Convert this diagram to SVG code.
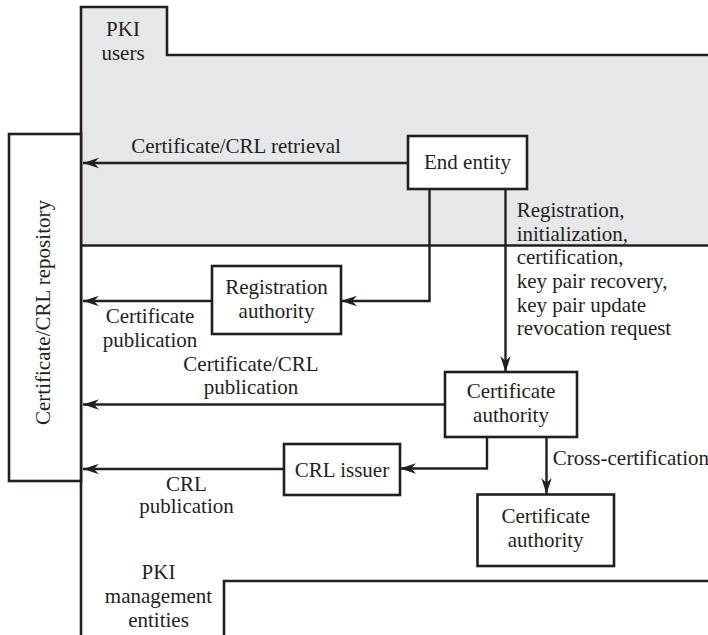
<svg xmlns="http://www.w3.org/2000/svg" width="708" height="635" viewBox="0 0 708 635">
<style>
text{font-family:'Liberation Serif','DejaVu Serif',serif;font-size:21px;fill:#231f20}
.c{text-anchor:middle}
.box{fill:#fff;stroke:#231f20;stroke-width:2.6}
.ln{fill:none;stroke:#231f20;stroke-width:2.6}
.ar{fill:none;stroke:#231f20;stroke-width:2.4;marker-end:url(#ah)}
</style>
<defs>
<marker id="ah" markerUnits="userSpaceOnUse" viewBox="-16 -6 17 12" markerWidth="17" markerHeight="12" refX="0" refY="0" orient="auto">
<path d="M0,0 L-16,-5.2 L-11,0 L-16,5.2 Z" fill="#231f20"/>
</marker>
</defs>
<g id="regions">
<path d="M81,7 H167 V55 H710 V245 H81 Z" fill="#e6e7e8"/>
<path class="ln" d="M81,637 V7 H167 V55 H710"/>
<path class="ln" d="M81,245.5 H710"/>
<path class="ln" d="M224,637 V581 H710"/>
<text class="c" x="123" y="35.7">PKI</text>
<text class="c" x="123" y="60">users</text>
<text class="c" x="158.5" y="579">PKI</text>
<text class="c" x="158.5" y="602.7">management</text>
<text class="c" x="158.5" y="626.7">entities</text>
</g>
<g id="repository">
<rect class="box" x="9" y="134" width="72" height="347"/>
<text class="c" transform="translate(50,312.5) rotate(-90)">Certificate/CRL repository</text>
</g>
<g id="connectors">
<path class="ar" d="M408,163 H83"/>
<path class="ar" d="M429.5,189 V301 H341"/>
<path class="ar" d="M505.5,189 V372"/>
<path class="ar" d="M212,301 H83"/>
<path class="ar" d="M445,404.5 H83"/>
<path class="ar" d="M487,437 V468.5 H400"/>
<path class="ar" d="M546.5,437 V494"/>
<path class="ar" d="M284,469 H83"/>
<text class="c" x="236" y="153.3">Certificate/CRL retrieval</text>
<text x="516.7" y="217">Registration,</text>
<text x="516.7" y="240.7">initialization,</text>
<text x="516.7" y="264.4">certification,</text>
<text x="516.7" y="288">key pair recovery,</text>
<text x="516.7" y="311.7">key pair update</text>
<text x="516.7" y="335.4">revocation request</text>
<text class="c" x="150" y="322.7">Certificate</text>
<text class="c" x="150" y="346.7">publication</text>
<text class="c" x="251" y="370.7">Certificate/CRL</text>
<text class="c" x="251" y="394">publication</text>
<text x="552.7" y="465">Cross-certification</text>
<text class="c" x="186.5" y="490.7">CRL</text>
<text class="c" x="186.5" y="513.3">publication</text>
</g>
<g id="end-entity">
<rect class="box" x="408" y="136" width="119" height="53"/>
<text class="c" x="467.5" y="169.3">End entity</text>
</g>
<g id="registration-authority">
<rect class="box" x="212" y="266" width="129" height="68"/>
<text class="c" x="276.5" y="294.3">Registration</text>
<text class="c" x="276.5" y="318.3">authority</text>
</g>
<g id="certificate-authority">
<rect class="box" x="445" y="372" width="132" height="65"/>
<text class="c" x="511" y="398.3">Certificate</text>
<text class="c" x="511" y="422.3">authority</text>
</g>
<g id="crl-issuer">
<rect class="box" x="284" y="444" width="116" height="51"/>
<text class="c" x="342" y="476.7">CRL issuer</text>
</g>
<g id="certificate-authority-2">
<rect class="box" x="477.5" y="494.5" width="136.5" height="71.5"/>
<text class="c" x="545.7" y="523">Certificate</text>
<text class="c" x="545.7" y="547">authority</text>
</g>
</svg>
